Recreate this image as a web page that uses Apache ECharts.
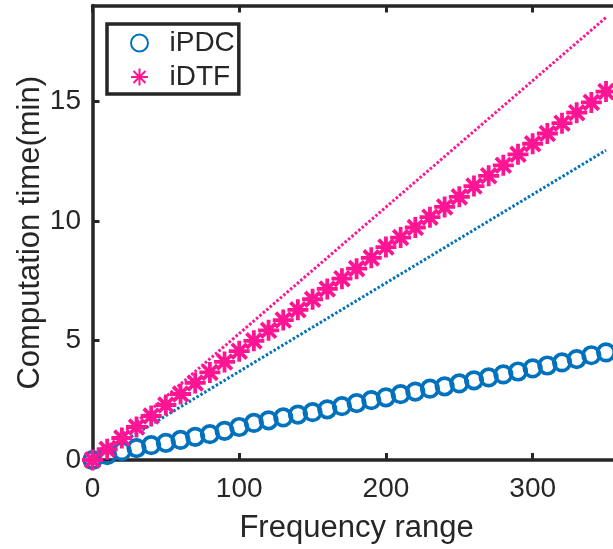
<!DOCTYPE html>
<html>
<head>
<meta charset="utf-8">
<script src="https://cdn.jsdelivr.net/npm/echarts@6/dist/echarts.min.js"></script>
<style>
  html, body { margin: 0; padding: 0; background: #fff; }
  #chart { width: 613px; height: 549px; }
</style>
</head>
<body>
<div id="chart"></div>
<script>
var freq = [0, 10, 20, 30, 40, 50, 60, 70, 80, 90, 100, 110, 120, 130, 140, 150, 160, 170,
            180, 190, 200, 210, 220, 230, 240, 250, 260, 270, 280, 290, 300, 310, 320, 330, 340, 350];
var iPDC = [0, 0.2, 0.37, 0.5, 0.62, 0.72, 0.84, 0.97, 1.08, 1.22, 1.38, 1.55, 1.66, 1.78, 1.9, 2.0, 2.12, 2.25,
            2.38, 2.5, 2.62, 2.75, 2.86, 2.98, 3.08, 3.2, 3.33, 3.45, 3.58, 3.7, 3.83, 3.95, 4.08, 4.22, 4.38, 4.5];
var iDTF = [0, 0.45, 0.92, 1.38, 1.84, 2.3, 2.76, 3.22, 3.66, 4.1, 4.55, 4.98, 5.42, 5.85, 6.28, 6.72, 7.15, 7.58,
            8.0, 8.45, 8.9, 9.3, 9.72, 10.15, 10.58, 11.0, 11.45, 11.88, 12.32, 12.78, 13.22, 13.65, 14.08, 14.52, 14.95, 15.4];
var fitX = [0, 350];
var iPDCfit = [0, 12.95];
var iDTFfit = [0, 18.5];
var xTicks = [0, 100, 200, 300];
var yTicks = [0, 5, 10, 15];

var BLUE = '#0072BD', PINK = '#FF1493', AX = '#262626';
var FONT = 'Liberation Sans, Arial, sans-serif';
function pairs(xs, ys) { return xs.map(function (x, i) { return [x, ys[i]]; }); }
var STAR = 'path://M0,-1L0,1M-1,0L1,0M-0.707,-0.707L0.707,0.707M-0.707,0.707L0.707,-0.707';

var axLine = { show: true, onZero: false, lineStyle: { color: AX, width: 3.5 } };
var axTick = { show: true, inside: true, length: 7, lineStyle: { color: AX, width: 3 } };

var chart = echarts.init(document.getElementById('chart'), null, { renderer: 'canvas' });
chart.setOption({
  animation: false,
  backgroundColor: '#fff',
  grid: { left: 92.5, top: 5.5, right: -7.7, bottom: 89, outerBoundsMode: 'none', containLabel: false },
  legend: {
    data: ['iPDC', 'iDTF'],
    orient: 'vertical',
    left: 107, top: 24,
    padding: [4, 4, 2, 23],
    itemWidth: 50, itemHeight: 17, itemGap: 4,
    borderColor: AX, borderWidth: 3.5, backgroundColor: '#fff',
    textStyle: { fontFamily: FONT, fontSize: 28, color: AX, lineHeight: 30 }
  },
  xAxis: [{
    type: 'value', min: 0, max: 360, interval: 100,
    name: 'Frequency range', nameLocation: 'middle', nameGap: 53, nameMoveOverlap: false,
    nameTextStyle: { fontFamily: FONT, fontSize: 31, color: AX },
    axisLine: axLine, axisTick: axTick, splitLine: { show: false },
    axisLabel: { fontFamily: FONT, fontSize: 28, color: AX, margin: 15, showMaxLabel: false,
      formatter: function (v) { return xTicks.indexOf(v) >= 0 ? String(v) : ''; } }
  }, {
    type: 'value', min: 0, max: 360, interval: 100, position: 'top',
    axisLine: axLine, axisTick: axTick, splitLine: { show: false }, axisLabel: { show: false }
  }],
  yAxis: [{
    type: 'value', min: 0, max: 19, interval: 5,
    name: 'Computation time(min)', nameLocation: 'middle', nameGap: 47, nameMoveOverlap: false,
    nameTextStyle: { fontFamily: FONT, fontSize: 31, color: AX },
    axisLine: axLine, axisTick: axTick, splitLine: { show: false },
    axisLabel: { fontFamily: FONT, fontSize: 28, color: AX, margin: 11.5, showMaxLabel: false,
      formatter: function (v) { return yTicks.indexOf(v) >= 0 ? String(v) : ''; } }
  }, {
    type: 'value', min: 0, max: 19, interval: 5, position: 'right',
    axisLine: axLine, axisTick: axTick, splitLine: { show: false }, axisLabel: { show: false }
  }],
  series: [
    {
      name: 'iPDC-fit', type: 'line', data: pairs(fitX, iPDCfit), showSymbol: false, symbol: 'none',
      lineStyle: { color: BLUE, width: 3, type: [2.5, 2] }, z: 2
    },
    {
      name: 'iDTF-fit', type: 'line', data: pairs(fitX, iDTFfit), showSymbol: false, symbol: 'none',
      lineStyle: { color: PINK, width: 3, type: [2.5, 2] }, z: 2
    },
    {
      name: 'iPDC', type: 'scatter', data: pairs(freq, iPDC), symbol: 'circle', symbolSize: 16.5,
      itemStyle: { color: 'rgba(255,255,255,0)', borderColor: BLUE, borderWidth: 3.7, opacity: 1 }, z: 3
    },
    {
      name: 'iDTF', type: 'scatter', data: pairs(freq, iDTF), symbol: STAR, symbolSize: 21,
      itemStyle: { color: 'rgba(255,255,255,0)', borderColor: PINK, borderWidth: 3.8, opacity: 1 }, z: 4
    }
  ]
});
</script>
</body>
</html>
